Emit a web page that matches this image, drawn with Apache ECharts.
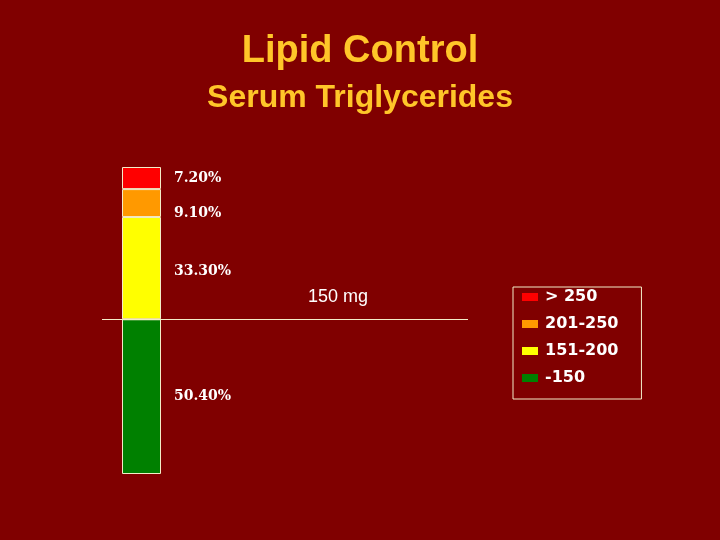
<!DOCTYPE html>
<html>
<head>
<meta charset="utf-8">
<script src="https://cdn.jsdelivr.net/npm/echarts@6/dist/echarts.min.js"></script>
<style>
  html, body { margin: 0; padding: 0; background: #800000; }
  #main { width: 720px; height: 540px; }
</style>
</head>
<body>
<div id="main"></div>
<script>
// 分组（从下往上堆叠）
var groups = ["-150", "151-200", "201-250", "> 250"];
var shares = [50.4, 33.3, 9.1, 7.2];
var colors = ["#008000", "#ffff00", "#ff9900", "#ff0000"];
var legendOrder = ["> 250", "201-250", "151-200", "-150"];
var cutoff = 50.4;          // 150 mg 分界线
var cutoffLabel = "150 mg";

var chart = echarts.init(document.getElementById("main"));

var labelOffsets = [[0, 0], [0, 3], [0, 10], [0, 0]];

var series = [];
for (var i = 0; i < groups.length; i++) {
  var s = {
    name: groups[i],
    type: "bar",
    stack: "tg",
    barWidth: "100%",
    data: [shares[i]],
    itemStyle: {
      color: colors[i],
      borderColor: "#f3edc8",
      borderWidth: 1
    },
    label: {
      show: true,
      position: "right",
      distance: 13,
      offset: labelOffsets[i],
      color: "#ffffff",
      fontFamily: "DejaVu Serif",
      fontWeight: "bold",
      fontSize: 14,
      formatter: function(p) {
        return p.value.toFixed(2) + "%";
      }
    }
  };
  if (i == 0) {
    s.markLine = {
      silent: true,
      symbol: "none",
      lineStyle: { color: "#f3edc8", width: 1, type: "solid" },
      label: {
        show: true,
        position: "insideMiddleTop",
        distance: 13,
        padding: [0, 0, 0, 106],
        color: "#ffffff",
        fontFamily: "Liberation Sans",
        fontSize: 18,
        formatter: cutoffLabel
      },
      data: [[{ x: 102, yAxis: cutoff }, { x: 468, yAxis: cutoff }]]
    };
  }
  series.push(s);
}

var option = {
  backgroundColor: "#800000",
  animation: false,
  title: [{
    text: "Lipid Control",
    left: "center",
    top: 28,
    textStyle: { color: "#ffc629", fontFamily: "Liberation Sans", fontWeight: "bold", fontSize: 38 }
  }, {
    text: "Serum Triglycerides",
    left: "center",
    top: 77,
    textStyle: { color: "#ffc629", fontFamily: "Liberation Sans", fontWeight: "bold", fontSize: 32 }
  }],
  legend: {
    data: legendOrder,
    orient: "vertical",
    left: 513,
    top: 287,
    padding: [2, 23, 13, 9],
    itemGap: 11,
    itemWidth: 16,
    itemHeight: 8,
    icon: "rect",
    borderColor: "#f3edc8",
    borderWidth: 1,
    itemStyle: { borderWidth: 0 },
    textStyle: { color: "#ffffff", fontFamily: "DejaVu Sans", fontWeight: "bold", fontSize: 16, padding: [0, 0, 0, 2] }
  },
  grid: { left: 122, width: 39, top: 167, bottom: 66, containLabel: false },
  xAxis: {
    type: "category",
    data: ["TG"],
    show: false
  },
  yAxis: {
    type: "value",
    min: 0,
    max: 100,
    show: false
  },
  series: series
};
chart.setOption(option);
</script>
</body>
</html>
